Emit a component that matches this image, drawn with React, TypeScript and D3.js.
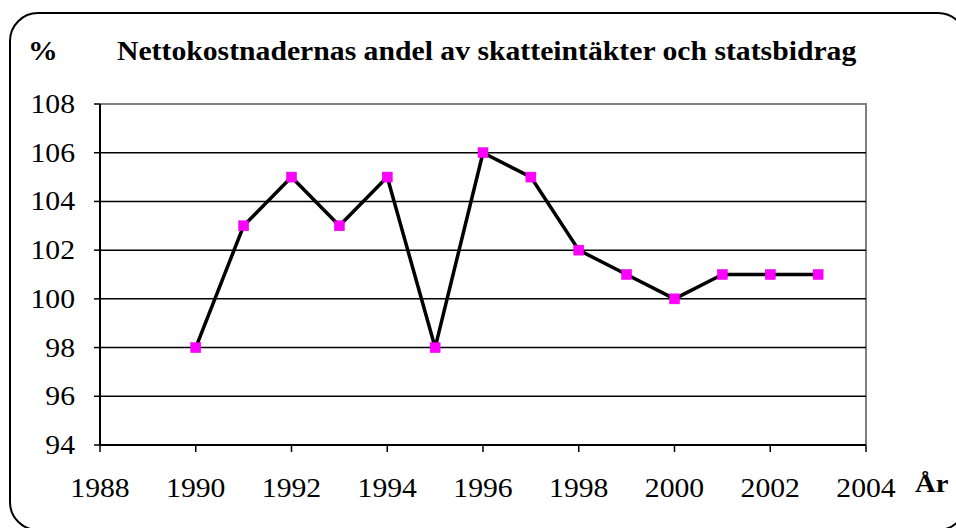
import React from "react";
import * as d3 from "d3";

const years = [1990, 1991, 1992, 1993, 1994, 1995, 1996, 1997, 1998, 1999, 2000, 2001, 2002, 2003];
const values = [98, 103, 105, 103, 105, 98, 106, 105, 102, 101, 100, 101, 101, 101];
const xTicks = [1988, 1990, 1992, 1994, 1996, 1998, 2000, 2002, 2004];
const yTicks = [94, 96, 98, 100, 102, 104, 106, 108];
const title = "Nettokostnadernas andel av skatteintäkter och statsbidrag";

const SX = 1.1;

function T(props: { x: number; y: number; anchor?: string; bold?: boolean; size: number; children: React.ReactNode }) {
  return (
    <text
      transform={`translate(${props.x},${props.y}) scale(${SX},1)`}
      textAnchor={props.anchor || "start"}
      fontFamily="'Liberation Serif', 'Times New Roman', serif"
      fontWeight={props.bold ? "bold" : "normal"}
      fontSize={props.size}
      fill="#000"
    >
      {props.children}
    </text>
  );
}

export default function App() {
  const W = 956, H = 528;
  const left = 100, right = 866, top = 104, bottom = 445;
  const x = d3.scaleLinear().domain([1988, 2004]).range([left, right]);
  const y = d3.scaleLinear().domain([94, 108]).range([bottom, top]);
  const line = d3.line<number>().x((_, i) => x(years[i])).y((d) => y(d));
  return (
    <svg width={W} height={H} style={{ position: "absolute", left: 0, top: 0, background: "#fff" }}>
      <rect x={10} y={13} width={956} height={517} rx={28} ry={28} fill="#fff" stroke="#000" strokeWidth={2} />
      <T x={28} y={60} bold size={27}>%</T>
      <T x={117} y={60} bold size={27}>{title}</T>
      <path d={`M${left},${top}H${right}V${bottom}`} fill="none" stroke="#808080" strokeWidth={2} />
      {yTicks.slice(1, -1).map((t) => (
        <line key={t} x1={left} x2={right} y1={y(t)} y2={y(t)} stroke="#000" strokeWidth={1.5} />
      ))}
      <line x1={left} x2={right} y1={bottom} y2={bottom} stroke="#000" strokeWidth={2} />
      <line x1={left} x2={left} y1={top} y2={bottom} stroke="#000" strokeWidth={2} />
      {yTicks.map((t) => (
        <g key={t}>
          <line x1={left - 6} x2={left} y1={y(t)} y2={y(t)} stroke="#000" strokeWidth={1.5} />
          <T x={75} y={y(t) + 9} anchor="end" size={27}>{t}</T>
        </g>
      ))}
      {xTicks.map((t) => (
        <g key={t}>
          <line x1={x(t)} x2={x(t)} y1={bottom} y2={bottom + 7} stroke="#000" strokeWidth={1.5} />
          <T x={x(t)} y={497} anchor="middle" size={27}>{t}</T>
        </g>
      ))}
      <T x={915} y={492} bold size={26}>År</T>
      <path d={line(values) || ""} fill="none" stroke="#000" strokeWidth={3.5} strokeLinejoin="round" />
      {values.map((v, i) => (
        <rect key={i} x={x(years[i]) - 5} y={y(v) - 5} width={10} height={10} fill="#ff00ff" stroke="#e000e0" strokeWidth={0.5} />
      ))}
    </svg>
  );
}
